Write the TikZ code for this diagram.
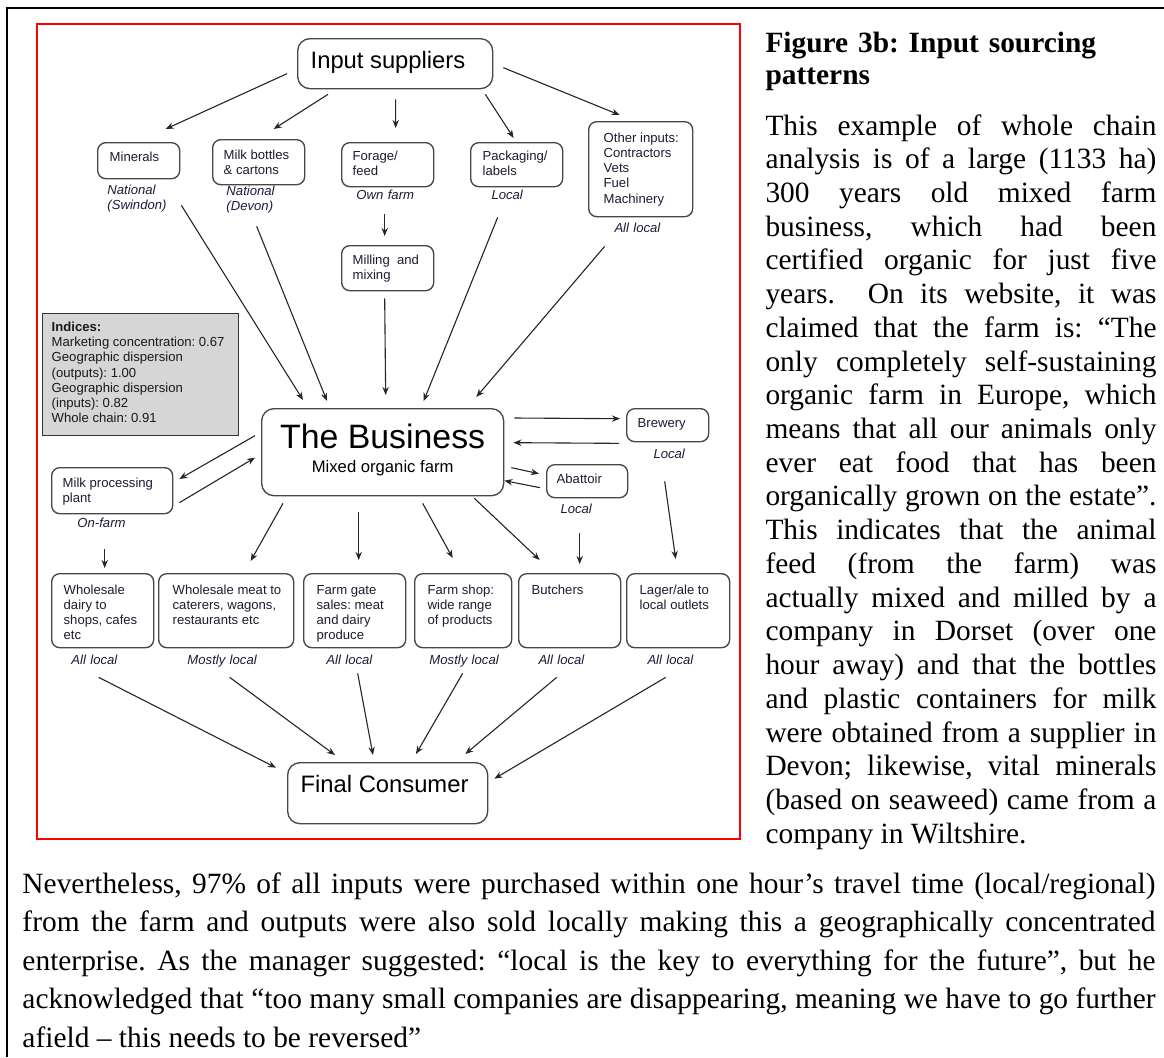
\documentclass[tikz,border=0pt]{standalone}
\usepackage{fontspec}
\setmainfont{Liberation Serif}
\newfontfamily\arial{Liberation Sans}
\usetikzlibrary{arrows.meta,calc}
\frenchspacing
\newlength\pxu \setlength\pxu{0.408pt}
\definecolor{txt}{RGB}{28,28,52}
\definecolor{lbl}{RGB}{28,28,60}
\newcommand\fsm{\arial\fontsize{5.35}{6.2}\selectfont}
\newcommand\fsl{\arial\itshape\fontsize{5.35}{6.3}\selectfont}
\newcommand\bx[5]{\parbox[c][#2\pxu][t]{#1\pxu}{\raggedright\leftskip=#3\pxu\relax\rule{0pt}{#4\pxu}#5\par}}
\tikzset{
 bxs/.style={draw=black!72, line width=0.55pt, rounded corners=3.3pt, inner sep=0pt, anchor=north west, text=txt, font=\fsm},
 bigbox/.style={bxs, rounded corners=5pt, font=\arial\fontsize{9.7}{11}\selectfont, text=black},
 lab/.style={anchor=base west, inner sep=0pt, text width=80\pxu, align=left, font=\fsl, text=lbl},
 arr/.style={draw=black!85, line width=0.45pt, -{Stealth[length=3.3pt,width=2.6pt]}},
}
\begin{document}
\begin{tikzpicture}[x=0.408pt,y=-0.408pt]
\useasboundingbox (0,0) rectangle (1164,1057);
\fill[white] (0,0) rectangle (1164,1057);
\draw[line width=1.1pt] (7,1057) -- (7,8) -- (1164,8);
\draw[red, line width=1.1pt] (37,24) rectangle (740,839);

% top
\node[bigbox] (ins) at (297,38) {\bx{195}{50}{13}{30}{Input suppliers}};
\node[bxs] (min) at (97,142) {\bx{82}{36}{12}{18.7}{Minerals}};
\node[bxs] (mb) at (212,139) {\bx{92}{45}{11}{19.7}{Milk bottles\\\& cartons}};
\node[bxs] (for) at (341,142) {\bx{92}{44}{11}{17.7}{Forage/\\feed}};
\node[bxs] (mil) at (341,245) {\bx{92}{45}{11}{18.7}{Milling~~and\\mixing}};
\node[bxs] (pkg) at (470,142) {\bx{92}{44}{12}{17.7}{Packaging/\\labels}};
\node[bxs] (oth) at (588,121) {\bx{104}{95}{15}{20.7}{Other inputs:\\Contractors\\Vets\\Fuel\\Machinery}};

\node[lab] (minL) at (107,194.5) {National\\(Swindon)};
\node[lab] (mbL) at (226,195.5) {National\\(Devon)};
\node[lab] (forL) at (356,199.5) {Own farm};
\node[lab] (pkgL) at (491,199.5) {Local};
\node[lab] (othL) at (614,232.5) {All local};

% middle
\node[bxs, rounded corners=0pt, fill=black!16, draw=black!80, line width=0.6pt, text=black!90] (idx) at (42,313)
 {\bx{196}{122}{9}{17.7}{\textbf{Indices:}\\Marketing concentration: 0.67\\Geographic dispersion\\(outputs): 1.00\\Geographic dispersion\\(inputs): 0.82\\Whole chain: 0.91}};
\node[bigbox] (bus) at (261,408) {\parbox[c][87\pxu][t]{242\pxu}{\centering\rule{0pt}{40\pxu}{\fontsize{13.8}{16}\selectfont The Business\par}{\fontsize{6.8}{9.8}\selectfont Mixed organic farm\par}}};
\node[bxs] (mpp) at (51,467) {\bx{121}{46}{11}{19.7}{Milk processing\\plant}};
\node[bxs] (brw) at (626,408) {\bx{82}{33}{11}{18.7}{Brewery}};
\node[bxs] (aba) at (546,464) {\bx{81}{33}{10}{18.7}{Abattoir}};
\node[lab] (mppL) at (77,527.5) {On-farm};
\node[lab] (brwL) at (653,458.5) {Local};
\node[lab] (abaL) at (560,513.5) {Local};

% row 3
\node[bxs] (wd) at (51,573) {\bx{102}{74}{12}{20.7}{Wholesale\\dairy to\\shops, cafes\\etc}};
\node[bxs] (wm) at (158,573) {\bx{135}{74}{14}{20.7}{Wholesale meat to\\caterers, wagons,\\restaurants etc}};
\node[bxs] (fg) at (303,573) {\bx{102}{74}{13}{20.7}{Farm gate\\sales: meat\\and dairy\\produce}};
\node[bxs] (fs) at (414,573) {\bx{97}{74}{13}{20.7}{Farm shop:\\wide range\\of products}};
\node[bxs] (bu) at (518,573) {\bx{102}{74}{13}{20.7}{Butchers}};
\node[bxs] (la) at (626,573) {\bx{103}{74}{13}{20.7}{Lager/ale to\\local outlets}};
\node[lab] (wdL) at (71,664.5) {All local};
\node[lab] (wmL) at (187,664.5) {Mostly local};
\node[lab] (fgL) at (326,664.5) {All local};
\node[lab] (fsL) at (429,664.5) {Mostly local};
\node[lab] (buL) at (538,664.5) {All local};
\node[lab] (laL) at (647,664.5) {All local};

\node[bigbox] (fc) at (287,762) {\bx{200}{61}{13}{30}{Final Consumer}};

% arrows
\draw[arr] ($(ins.west)+(-10,10)$) -- ($(min.north)+(27,-13)$);
\draw[arr] ($(ins.south west)+(31,5)$) -- ($(mb.north)+(15,-10)$);
\draw[arr] ($(ins.south)+(0.5,10)$) -- ($(for.north)+(8,-14)$);
\draw[arr] ($(ins.south east)+(-8,5)$) -- ($(pkg.north)+(-3,-4)$);
\draw[arr] ($(ins.east)+(10,4)$) -- ($(oth.north)+(-21,-6)$);
\draw[arr] ($(for.south)+(-3,27)$) -- ($(mil.north)+(-3,-9)$);
\draw[arr] ($(min.south east)+(1,26)$) -- ($(bus.north west)+(42,-8)$);
\draw[arr] ($(mb.south)+(-2,41)$) -- ($(bus.north west)+(66,-7)$);
\draw[arr] ($(mil.south)+(-3,7)$) -- ($(bus.north)+(3,-13)$);
\draw[arr] ($(pkg.south)+(-19,30)$) -- ($(bus.north)+(41,-7)$);
\draw[arr] ($(oth.south)+(-36,29)$) -- ($(bus.north east)+(-28,-11)$);
\draw[arr] ($(bus.west)+(-6,-16.5)$) -- ($(mpp.north east)+(6,12)$);
\draw[arr] ($(mpp.east)+(6,12)$) -- ($(bus.west)+(-6,5.5)$);
\draw[arr] ($(bus.north east)+(10,10)$) -- ($(brw.west)+(-6,-6.5)$);
\draw[arr] ($(brw.south west)+(-7,1)$) -- ($(bus.east)+(9,-9.5)$);
\draw[arr] ($(bus.east)+(7,15.5)$) -- ($(aba.west)+(-7,-7.5)$);
\draw[arr] ($(aba.west)+(-6,6.5)$) -- ($(bus.east)+(0,28.5)$);
\draw[arr] ($(mpp.south)+(-7.5,35)$) -- ($(wd.north)+(2,-5)$);
\draw[arr] ($(bus.south west)+(22,7)$) -- ($(wm.north)+(24.5,-12)$);
\draw[arr] ($(bus.south)+(-24,16)$) -- ($(fg.north)+(4,-13)$);
\draw[arr] ($(bus.south)+(40,7)$) -- ($(fs.north)+(-10.5,-15)$);
\draw[arr] ($(bus.south east)+(-30,2)$) -- ($(bu.north)+(-30,-13)$);
\draw[arr] ($(aba.south)+(-7.5,35)$) -- ($(bu.north)+(10,-9)$);
\draw[arr] ($(brw.south)+(-3,39)$) -- ($(la.north)+(-2.5,-14)$);
\draw[arr] ($(wd.south)+(-4,29)$) -- ($(fc.west)+(-11,-25.5)$);
\draw[arr] ($(wm.south)+(3.5,29)$) -- ($(fc.north west)+(48,-7)$);
\draw[arr] ($(fg.south)+(3,25)$) -- ($(fc.north west)+(86,-7)$);
\draw[arr] ($(fs.south)+(-0.5,25)$) -- ($(fc.north west)+(129,-8)$);
\draw[arr] ($(bu.south)+(-13,29)$) -- ($(fc.north east)+(-23,-8)$);
\draw[arr] ($(la.south)+(-12.5,29)$) -- ($(fc.east)+(6,-14.5)$);

% text
\node[anchor=base west, inner sep=0pt, text width=391\pxu, align=left, font=\bfseries\fontsize{12}{13.46}\selectfont] (head) at (765,52)
 {Figure 3b: Input sourcing\\patterns};
\node[anchor=base west, inner sep=0pt, text width=391\pxu, align=justify, font=\fontsize{12}{13.76}\selectfont] (body) at (765,135)
 {This example of whole chain\linebreak
 analysis is of a large (1133 ha)\linebreak
 300 years old mixed farm\linebreak
 business, which had been\linebreak
 certified organic for just five\linebreak
 years.\ \ On its website, it was\linebreak
 claimed that the farm is: “The\linebreak
 only completely self-sustaining\linebreak
 organic farm in Europe, which\linebreak
 means that all our animals only\linebreak
 ever eat food that has been\linebreak
 organically grown on the estate”.\linebreak
 This indicates that the animal\linebreak
 feed (from the farm) was\linebreak
 actually mixed and milled by a\linebreak
 company in Dorset (over one\linebreak
 hour away) and that the bottles\linebreak
 and plastic containers for milk\linebreak
 were obtained from a supplier in\linebreak
 Devon; likewise, vital minerals\linebreak
 (based on seaweed) came from a\linebreak
 company in Wiltshire.};
\node[anchor=base west, inner sep=0pt, text width=1133\pxu, align=justify, font=\fontsize{12}{15.71}\selectfont] (foot) at (22,893)
 {Nevertheless, 97\% of all inputs were purchased within one hour’s travel time (local/regional)\linebreak
 from the farm and outputs were also sold locally making this a geographically concentrated\linebreak
 enterprise. As the manager suggested: “local is the key to everything for the future”, but he\linebreak
 acknowledged that “too many small companies are disappearing, meaning we have to go further\linebreak
 afield – this needs to be reversed”};
\end{tikzpicture}
\end{document}
